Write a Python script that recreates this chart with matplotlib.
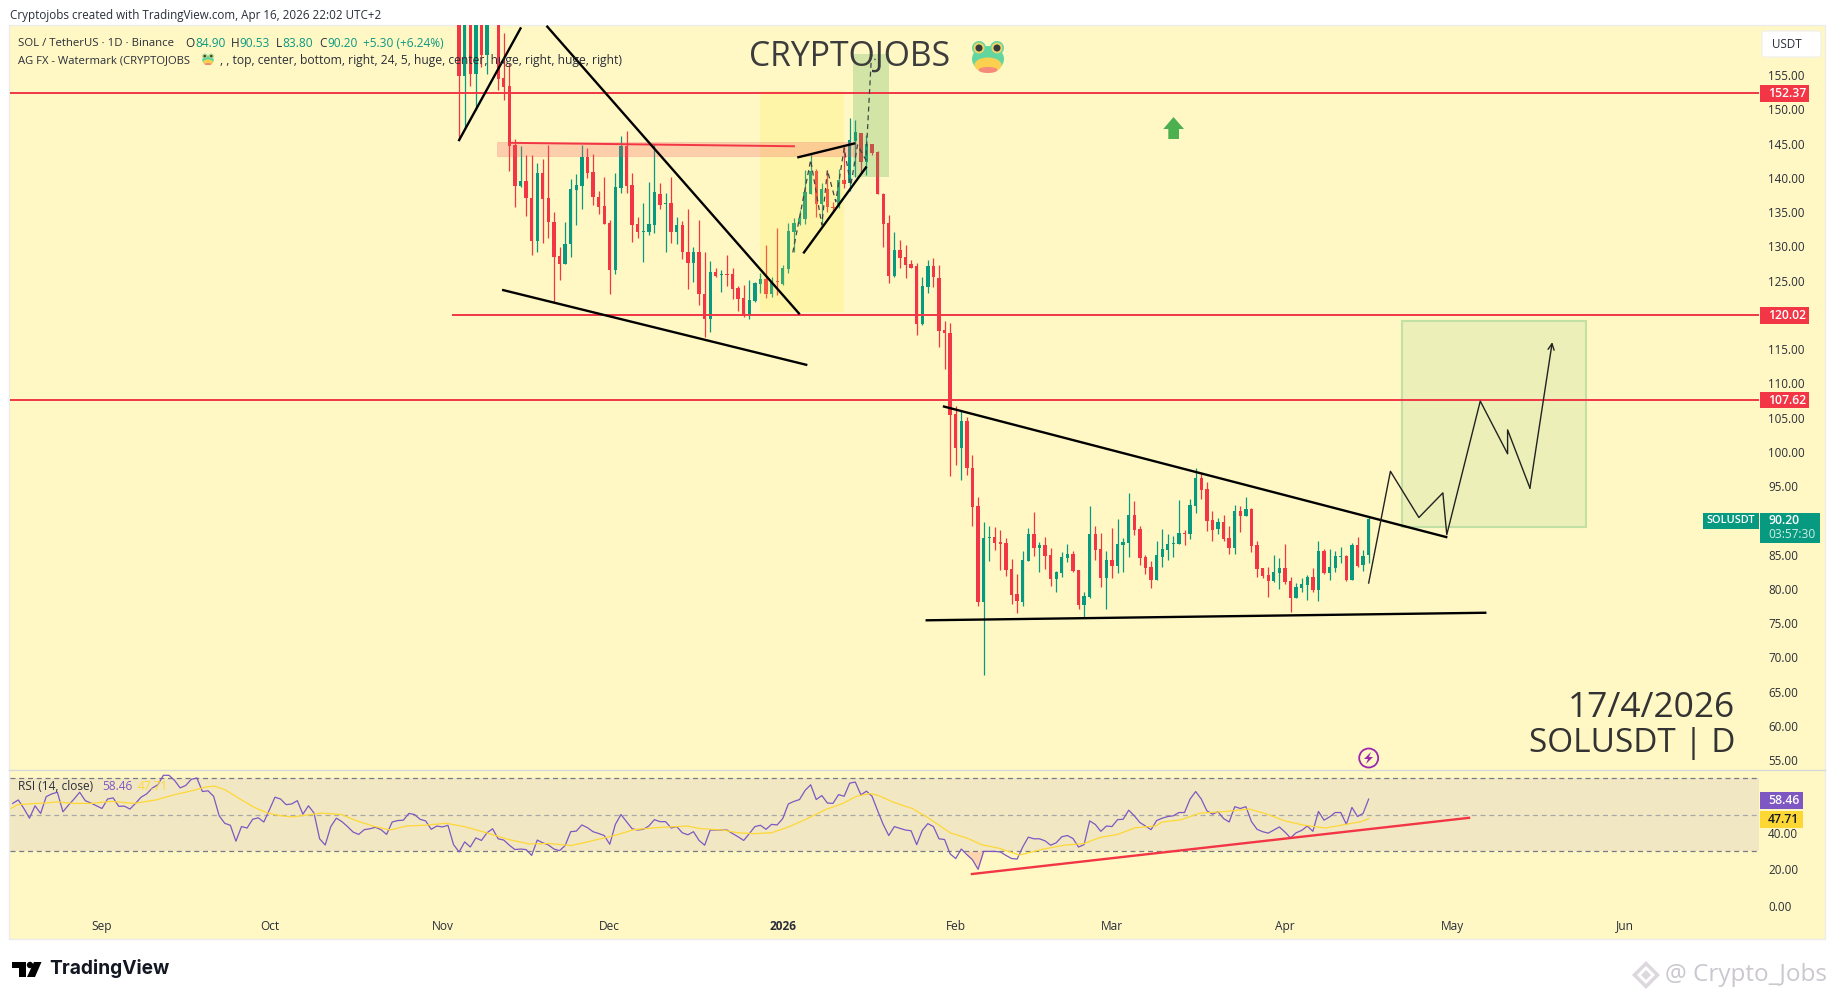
import numpy as np
import matplotlib
matplotlib.use('Agg')
import matplotlib.pyplot as plt
from matplotlib.patches import Rectangle, Circle, Ellipse, Polygon, FancyBboxPatch

plt.rcParams['font.family'] = ['Open Sans', 'DejaVu Sans']

# Days are counted from 1 Sep 2025
month_days = [0, 30, 61, 91, 122, 153, 181, 212, 242, 273]
month_names = ['Sep', 'Oct', 'Nov', 'Dec', '2026', 'Feb', 'Mar', 'Apr', 'May', 'Jun']

price_ticks = [55, 60, 65, 70, 75, 80, 85, 95, 100, 105, 110, 115, 125, 130, 135, 140, 145, 150, 155]
rsi_ticks = [0, 20, 40]
levels = [152.37, 120.02, 107.62]

candle_days = [64, 65, 66, 67, 68, 69] + list(range(71, 228))

# The first seven candles run off the top of the pane, their upper ends are guesses
opens = [170, 154.85, 172, 155.15, 172, 157.9, 172, 154.5, 153.4, 144.8,
         138.8, 139.5, 137.1, 130.8, 140.65, 137, 133.6, 128.6, 127.4, 130.3,
         138.2, 138.85, 143, 140.8, 137.25, 135.9, 133.4, 126.55, 138.55, 144.6,
         138.95, 133.25, 132.1, 132.1, 133.15, 137.7, 136.1, 136.3, 132.1, 133.1,
         129.2, 127.6, 129.2, 123.1, 119.45, 126.25, 125.75, 125.95, 125.95, 123.9,
         122.4, 119.8, 122, 124.5, 125.2, 123, 124.95, 124.5, 126.7, 132.15,
         133.25, 134, 137.7, 141.05, 136.15, 138.3, 135.8, 135.8, 139.65, 139.2,
         145.3, 146.6, 142.35, 144.9, 143.75, 137.7, 133.35, 125.7, 129.45, 128.4,
         127.4, 127.1, 118.65, 124.1, 127.1, 125.3, 117.75, 117.4, 105.5, 100.6,
         104.5, 97.7, 92.05, 78.05, 87.4, 87.55, 86.8, 86.65, 82.9, 79.25,
         78.05, 84.05, 88, 85.95, 86.4, 84.9, 81.45, 82.3, 84.5, 85.05,
         82.75, 77.65, 78.8, 88, 85.8, 81.55, 84.2, 83.3, 86.4, 86.7,
         90.75, 88.7, 84.65, 83.15, 81.25, 84.65, 85.65, 86.5, 86.5, 88.2,
         88, 92.1, 96.15, 94.55, 90.05, 88.7, 89.75, 87.4, 85.95, 91.35,
         90.6, 91.65, 86.4, 83.05, 82, 81.1, 82.3, 83.05, 81.1, 78.65,
         80.1, 80.55, 81.7, 79.8, 85.5, 82.3, 83.05, 84.65, 84.8, 81.25,
         86.4, 83.45, 84.9]
highs = [172, 172, 174, 174, 174, 174, 174, 161.1, 156.7, 145.6,
         144.6, 143.3, 143.3, 142.1, 142.8, 144.8, 134.95, 129.9, 133.55, 139.8,
         140.55, 144.8, 144.3, 143.5, 138, 140.05, 133.8, 140.75, 146.1, 146.8,
         140.65, 134.2, 136.3, 139.35, 145, 139.2, 137.8, 140.05, 134.2, 133.7,
         135.4, 129.9, 133.9, 129.1, 127.9, 126.8, 126.55, 128.7, 126.8, 124.2,
         124.35, 125.05, 124.85, 126.05, 130.2, 125.55, 132.6, 127.25, 133.35, 134.1,
         135.3, 141.15, 143.55, 141.35, 139.2, 141.15, 136.5, 141.35, 144.6, 148.7,
         148.45, 146.6, 146.25, 144.9, 143.95, 137.8, 134.55, 132.1, 130.9, 130.2,
         128, 127.5, 125.55, 128, 128.25, 127.25, 119.1, 118.75, 106.7, 106.1,
         105.1, 99.5, 93.35, 89.75, 89.15, 89, 88.6, 87.35, 84.35, 82.15,
         85.5, 88.85, 91.2, 86.9, 87.55, 85.9, 82.6, 85.35, 86.6, 85.5,
         82.75, 79.5, 92.05, 89.15, 88.15, 85.5, 88.85, 90.2, 87.4, 94,
         92.8, 89.15, 84.95, 84.05, 87, 88.7, 88, 87.7, 92.95, 88.6,
         93.1, 97.6, 96.9, 95.6, 91.35, 90.3, 90.75, 89.15, 92.2, 92.05,
         93.4, 91.8, 87, 83.05, 83.15, 84.95, 84.5, 86.5, 81.7, 80.85,
         81.55, 82, 83.05, 87, 85.8, 85.8, 85.5, 86.1, 84.95, 86.7,
         87.55, 85.65, 90.53]
lows = [145.5, 147.2, 153.4, 149.9, 156.2, 155.2, 152.8, 151.35, 141, 135.8,
        138.7, 134.4, 128.7, 129.1, 130.5, 131.2, 121.65, 125.05, 127.4, 128.5,
        133.1, 135.45, 139.9, 136, 134.7, 133.25, 123, 125.95, 137.8, 137.8,
        130.65, 131.2, 127.75, 131.65, 131.9, 135.4, 129.1, 130.5, 130.3, 128.1,
        123.7, 124.8, 121.4, 116.8, 117.5, 125.45, 123.35, 124.2, 122.25, 120.6,
        119.7, 119.35, 121.9, 123.15, 122.4, 122.65, 122.9, 124.35, 126.05, 129.2,
        133.1, 133.25, 137.7, 134.3, 133.1, 135.05, 135.05, 135.55, 138.45, 138,
        140.15, 140.9, 140.4, 143.3, 137.6, 129.9, 124.7, 125.55, 126.8, 125.3,
        126.8, 117.05, 118.5, 123.15, 124.1, 115.3, 112.1, 96.4, 98, 95.9,
        96.6, 89.15, 77.5, 67.4, 84, 85.65, 82.75, 81.85, 77.85, 76.5,
        77.5, 84.05, 84.8, 82.45, 82.9, 80.4, 79.5, 81.7, 83.9, 82.45,
        77.05, 75.7, 78.65, 84.2, 80.25, 77.05, 81.55, 82.3, 82.45, 84.65,
        87.85, 83.45, 82.15, 80.1, 81.25, 83.15, 84.2, 84.65, 86.5, 86.4,
        87.25, 91.05, 93.1, 88.4, 87, 88, 87, 85.05, 85.05, 88.3,
        90.6, 85.35, 81.7, 81.55, 78.8, 81, 79.95, 80.7, 76.6, 78.65,
        79.5, 78.35, 79.5, 78.2, 82.15, 81.25, 82.45, 83.75, 81.1, 81.25,
        83.15, 82.6, 83.8]
closes = [154.85, 170, 155.15, 172, 157.9, 172, 154.4, 153.3, 144.6, 138.85,
          139.5, 137.1, 130.8, 140.65, 136.9, 133.6, 128.4, 127.4, 130.4, 138.3,
          138.95, 143, 140.65, 137.25, 135.8, 133.25, 126.55, 138.6, 144.6, 138.85,
          133.15, 132.1, 132.2, 133.25, 137.9, 136, 136.3, 132.1, 133.1, 129.2,
          127.6, 129.2, 123.05, 119.45, 126.25, 125.65, 125.95, 125.8, 123.8, 122.3,
          119.8, 122.15, 124.6, 125.2, 123, 124.85, 124.75, 126.8, 132.3, 133.45,
          134.1, 137.85, 141.05, 136.15, 138.3, 135.7, 135.6, 139.65, 139.1, 145.5,
          146.7, 142.25, 144.9, 143.55, 137.7, 133.25, 125.65, 129.45, 128.35, 127.25,
          126.9, 118.65, 124.2, 127.1, 125.55, 117.7, 117.4, 105.4, 100.6, 104.5,
          97.7, 92, 78.05, 87.4, 87.6, 86.7, 86.6, 82.75, 79.1, 78.2,
          84.2, 88, 85.95, 86.4, 84.8, 81.45, 82.45, 84.65, 85.05, 82.55,
          77.65, 78.95, 88, 85.65, 81.55, 84.2, 83.3, 86.5, 86.8, 90.75,
          88.55, 84.5, 83.05, 81.25, 84.95, 85.8, 86.5, 86.7, 88.15, 88,
          92.2, 96.15, 94.4, 89.9, 88.55, 89.75, 87.25, 85.95, 91.35, 90.6,
          91.65, 86.25, 82.9, 81.85, 81.1, 82.45, 83.05, 81, 78.65, 80.25,
          80.7, 81.7, 79.8, 85.5, 82.3, 83.15, 84.8, 84.85, 81.25, 86.4,
          83.3, 84.8, 90.2]

rsi_values = [56.1, 58.0, 53.3, 48.0, 54.8, 50.6, 59.8, 61.3, 62.2, 51.5, 55.2, 58.5, 62.2, 57.6, 56.3,
              54.8, 53.3, 58.5, 59.1, 54.5, 54.6, 53.0, 56.1, 59.5, 61.3, 64.5, 66.3, 71.5, 71.5, 68.7,
              64.6, 65.9, 69.3, 70.0, 62.6, 63.0, 60.0, 49.3, 45.2, 44.1, 35.4, 43.4, 42.6, 47.4, 48.2,
              45.9, 52.6, 59.5, 58.5, 55.4, 55.8, 57.6, 50.2, 54.8, 50.8, 36.7, 33.3, 43.4, 48.0, 46.1,
              43.4, 40.4, 39.1, 41.7, 42.2, 43.0, 41.7, 39.1, 45.9, 46.7, 46.9, 50.6, 50.0, 47.4, 46.5,
              41.9, 43.7, 43.2, 44.1, 33.5, 29.5, 35.0, 32.2, 37.2, 35.8, 40.0, 42.2, 36.7, 36.0, 33.2,
              30.8, 31.1, 30.8, 27.6, 36.0, 34.5, 33.3, 31.1, 30.2, 33.0, 40.6, 40.9, 44.3, 42.8, 40.6,
              39.6, 38.5, 33.7, 44.6, 50.0, 46.1, 42.2, 41.5, 41.9, 43.7, 47.2, 46.1, 46.1, 42.6, 43.4,
              40.0, 38.9, 40.6, 35.8,
              33.2, 41.5, 41.5, 41.5, 41.5, 39.6, 37.8, 35.8, 39.5, 43.4, 44.1, 41.9, 44.6, 44.3, 47.8,
              55.8, 57.2, 58.2, 63.2, 66.3, 58.2, 60.4, 56.3, 56.1, 60.9, 60.0, 67.2, 67.8, 60.8, 62.8,
              60.0, 52.1, 44.6, 38.5, 43.4, 42.4, 41.5, 41.1, 33.5, 41.3, 45.0, 43.4, 36.7, 36.3, 28.4,
              25.9, 31.1, 28.0, 25.2, 20.0, 29.8, 29.8, 29.8, 29.5, 27.6, 25.9, 25.6, 32.2, 37.6, 36.7,
              36.7, 35.6, 33.2, 34.5, 37.8, 38.5, 36.9, 32.2, 33.5, 46.5, 44.6, 40.8, 43.7, 43.4, 47.2,
              47.4, 52.4, 49.3, 45.6, 43.7, 41.7, 46.7, 48.0, 48.9, 49.3, 51.1, 51.1, 58.5, 62.6, 58.5,
              52.1, 50.2, 51.5, 47.8, 45.9, 54.3, 53.3, 54.3, 46.1, 41.9, 40.6, 39.8, 41.5, 43.2, 40.4,
              37.2, 40.0, 41.3, 43.7, 40.8, 51.7, 46.9, 48.7, 51.1, 51.1, 44.6, 53.9, 48.9, 50.6, 58.46]
rsi_days = 227 - len(rsi_values) + 1 + np.arange(len(rsi_values))

ma_days = [-16.3, -15.1, -12.7, -10.3, -7.9, -5.1, -1.9, 1.7, 5.7, 9.7, 12.9, 16.1, 18.5, 20.1, 22.1, 24.9,
           27.3, 29.7, 32.1, 34.1, 36.9, 39.3, 42.9, 45.7, 48.9, 51.7, 54.5, 57.7, 61.7, 64.9, 68.9, 72.9,
           76.5, 80.1, 84.1, 88.1, 92.1, 95.3, 99.3, 104.9, 107.2, 111.2, 114, 116.8, 120, 123.2, 126.4,
           129.6, 132.8, 135.2, 137.6, 139.2, 141.6, 145.2, 148, 152, 155.2, 157.6, 160.8, 164.4, 168.8,
           172.4, 176, 178.8, 182, 185.2, 188.8, 190, 193.2, 196.8, 200.8, 205.6, 208.4, 212, 215.2, 219.2,
           222.4, 225.6, 227]
ma_values = [53.3, 55.4, 55.9, 56.3, 56.9, 56.1, 56.1, 57.2, 56.1, 58.0, 60.8, 63.0, 65.0, 65.6, 63.5, 58.2,
             53.9, 50.8, 49.3, 48.7, 49.8, 50.8, 50.0, 46.5, 43.4, 41.5, 43.7, 44.1, 45.2, 43.4, 40.0, 36.3,
             33.9, 34.1, 33.0, 35.8, 38.7, 41.7, 42.8, 43.7, 42.3, 41.5, 40.0, 39.5, 40.0, 43.4, 47.8,
             52.6, 56.1, 60.0, 61.5, 60.4, 57.0, 53.3, 48.3, 40.0, 36.9, 33.5, 31.5, 27.8, 31.1,
             33.2, 34.1, 37.4, 39.1, 42.8, 43.7, 45.9, 47.0, 50.8, 51.5, 53.0, 50.6, 46.5, 44.3, 42.6,
             44.3, 46.1, 47.71]

# Hand drawn lines as (day, price)
wedge_left = ([64, 75], [145.5, 161.8])
wedge_top = ([79.8, 124.9], [162.06, 120.2])
wedge_low = ([71.9, 126.2], [123.6, 112.7])
flag_top = ([124.8, 134.8], [143, 145])
flag_low = ([125.8, 136.9], [129.1, 141.5])
band_line = ([73.2, 124], [145.1, 144.6])
tri_top = ([150.9, 240.9], [106.6, 87.55])
tri_low = ([147.8, 247.9], [75.4, 76.5])
rsi_trend = ([155.9, 245], [17.4, 48.2])

dash_days = [123.8, 127, 129, 130, 131.5, 133, 134.2, 135.4, 136.9, 137.9, 138.6]
dash_prices = [129.1, 142.6, 133.1, 141.1, 136.5, 144.3, 138.9, 144.8, 142.6, 157.9, 157.2]
path_days = [227, 230.9, 236, 240.3, 241, 247, 251.9, 251.9, 255.9, 259.9]
path_prices = [80.84, 97.15, 90.4, 94, 87.9, 107.4, 99.7, 103.2, 94.7, 116]

GREEN = '#089981'
RED = '#f23645'
BG = '#fff8c4'
TXT = '#2a2e39'
W, H = 1835, 1000


def px_axes(z):
    a = fig.add_axes([0, 0, 1, 1], zorder=z)
    a.set_xlim(0, W)
    a.set_ylim(H, 0)
    a.axis('off')
    return a


def pane_axes(x0, x1, y0, y1):
    a = fig.add_axes([x0 / W, 1 - y1 / H, (x1 - x0) / W, (y1 - y0) / H], zorder=2)
    a.patch.set_visible(False)
    for s in a.spines.values():
        s.set_visible(False)
    a.set_xlim((x0 - 102) / 5.58, (x1 - 102) / 5.58)
    return a


def frog(a, cx, cy, s):
    a.add_patch(Circle((cx - 9 * s, cy - 8 * s), 7 * s, fc='#63d6a0', ec='none'))
    a.add_patch(Circle((cx + 9 * s, cy - 8 * s), 7 * s, fc='#63d6a0', ec='none'))
    a.add_patch(Ellipse((cx, cy + 3 * s), 32 * s, 26 * s, fc='#63d6a0', ec='none'))
    a.add_patch(Ellipse((cx, cy + 9 * s), 27 * s, 15 * s, fc='#fbd04f', ec='none'))
    a.add_patch(Ellipse((cx, cy + 14 * s), 19 * s, 6 * s, fc='#f58a7a', ec='none'))
    for sx in (-1, 1):
        a.add_patch(Circle((cx + sx * 9 * s, cy - 8 * s), 5.5 * s, fc='#e9d36a', ec='none'))
        a.add_patch(Circle((cx + sx * 9 * s, cy - 8 * s), 3.5 * s, fc='#3a3a3a', ec='none'))


def tag(a, x0, x1, y0, y1, color, label, tc='white', tx=None, size=8.8):
    a.add_patch(Rectangle((x0, y0), x1 - x0, y1 - y0, fc=color, ec='none'))
    a.text(x0 + 8 if tx is None else tx, (y0 + y1) / 2, label, color=tc, fontsize=size,
           fontweight='semibold', va='center', ha='left')


fig = plt.figure(figsize=(W / 100, H / 100), dpi=100, facecolor='white')

back = px_axes(0)
back.add_patch(Rectangle((9, 25), 1816, 914, fc=BG, ec='#ececec', lw=1))
back.plot([9, 1825], [770, 770], color='#d8d8d8', lw=1)

# price pane
ax = pane_axes(10, 1759, 25, 771)
ax.set_ylim(53.4, 162.3)
bottoms = np.minimum(opens, closes)
tops = np.maximum(opens, closes)
colors = [GREEN if c >= o else RED for o, c in zip(opens, closes)]
ax.vlines(candle_days, lows, highs, colors=colors, lw=0.9, zorder=2)
ax.bar(candle_days, tops - bottoms, 0.6, bottom=bottoms, color=colors, zorder=3)

ax.add_patch(Rectangle((117.9, 120.45), 15, 32.15, fc='#ffeb3b', alpha=0.2, ec='none', zorder=4))
ax.add_patch(Rectangle((134.6, 140.06), 6.4, 17.94, fc='#4caf50', alpha=0.25, ec='none', zorder=4))
ax.add_patch(Rectangle((70.85, 143.2), 64.2, 2, fc='#f7525f', alpha=0.25, ec='#f7525f', lw=0.5, zorder=4))
ax.add_patch(Rectangle((232.9, 89.05), 33, 30.05, fc='#4caf50', alpha=0.1, ec='none', zorder=4))
ax.add_patch(Rectangle((232.9, 89.05), 33, 30.05, fc='none', ec='#c3e0a4', lw=1.5, zorder=4))

ax.axhline(levels[0], color=RED, lw=1.4, zorder=5)
ax.plot([62.9, 300], [levels[1], levels[1]], color=RED, lw=1.4, zorder=5)
ax.axhline(levels[2], color=RED, lw=1.4, zorder=5)
ax.plot(*band_line, color=RED, lw=1.4, zorder=5)
for line in (wedge_left, wedge_top, wedge_low, flag_top, flag_low, tri_top, tri_low):
    ax.plot(*line, color='black', lw=1.7, zorder=6)
ax.plot(dash_days, dash_prices, color='#444444', lw=0.9, ls=(0, (4, 3)), zorder=6)
ax.plot(path_days[:-1], path_prices[:-1], color='#222222', lw=1, zorder=6)
ax.annotate('', xy=(path_days[-1], path_prices[-1]), xytext=(path_days[-2], path_prices[-2]),
            arrowprops=dict(arrowstyle='->', color='#222222', lw=1, mutation_scale=11, shrinkA=0, shrinkB=0), zorder=6)

ax.yaxis.tick_right()
ax.set_yticks(price_ticks)
ax.set_yticklabels(['%.2f' % p for p in price_ticks])
ax.tick_params(axis='y', length=0, pad=6.5, labelsize=8.4, labelcolor=TXT)
ax.set_xticks([])

# rsi pane
ax2 = pane_axes(10, 1759, 772, 939)
ax2.set_ylim(-18.2, 73.3)
ax2.axhspan(30, 70, fc='#f2e7c3', ec='none', zorder=1)
for lv, col in ((70, '#787b86'), (50, '#a8a8a8'), (30, '#787b86')):
    ax2.axhline(lv, color=col, lw=0.9, ls=(0, (4, 3)), zorder=2)
ax2.plot(rsi_days, rsi_values, color='#7e57c2', lw=0.9, zorder=3)
ax2.plot(ma_days, ma_values, color='#fdd835', lw=0.9, zorder=3)
sel = (rsi_days >= 155) & (rsi_days <= 158)
ax2.fill_between(rsi_days[sel], np.array(rsi_values)[sel], 30, color='#f7525f', alpha=0.2, lw=0, zorder=2)
ax2.plot(*rsi_trend, color=RED, lw=1.7, zorder=4)
ax2.yaxis.tick_right()
ax2.set_yticks(rsi_ticks)
ax2.set_yticklabels(['%.2f' % r for r in rsi_ticks])
ax2.tick_params(axis='y', length=0, pad=6.5, labelsize=8.4, labelcolor=TXT)
ax2.set_xticks(month_days)
ax2.set_xticklabels(month_names)
ax2.tick_params(axis='x', length=0, pad=-14, labelsize=8.6, labelcolor=TXT)
ax2.get_xticklabels()[4].set_fontweight('bold')

top = px_axes(5)
top.text(10, 15.5, 'Cryptojobs created with TradingView.com, Apr 16, 2026 22:02 UTC+2', fontsize=8.4, color=TXT, va='center')

top.text(18, 43.5, 'SOL / TetherUS · 1D · Binance', fontsize=8.2, color=TXT, va='center')
for x, s, c in [(185, 'O', TXT), (195, '84.90', GREEN), (231, 'H', TXT), (239, '90.53', GREEN), (276, 'L', TXT),
                (282, '83.80', GREEN), (319, 'C', TXT), (327, '90.20', GREEN), (362.5, '+5.30 (+6.24%)', GREEN)]:
    top.text(x, 43.5, s, fontsize=8.6, color=c, va='center')
top.text(18, 60.5, 'AG FX - Watermark (CRYPTOJOBS', fontsize=8.1, color=TXT, va='center')
frog(top, 208, 59, 0.36)
top.text(220, 60.5, ', , top, center, bottom, right, 24, 5, huge, center, huge, right, huge, right)', fontsize=8.7, color=TXT, va='center')
top.text(18, 787, 'RSI (14, close)', fontsize=8.6, color=TXT, va='center')
top.text(102, 787, '58.46', fontsize=8.6, color='#7e57c2', va='center')
top.text(138, 787, '47.71', fontsize=8.6, color='#fdd835', va='center')

top.text(850, 57, 'CRYPTOJOBS', fontsize=24.3, color='#3c3c3c', ha='center', va='center')
frog(top, 988, 56, 1)
top.text(1735, 708, '17/4/2026', fontsize=25.5, color='#333333', ha='right', va='center')
top.text(1735, 744, 'SOLUSDT | D', fontsize=24, color='#333333', ha='right', va='center')

# green arrow and the lightning badge
top.add_patch(Polygon([(1173.5, 117), (1184, 129), (1179, 129), (1179, 139), (1168.3, 139), (1168.3, 129), (1163.3, 129)], fc='#4caf50', ec='none'))
top.add_patch(Circle((1368.7, 758), 9.5, fc='none', ec='#9c27b0', lw=1.3))
top.add_patch(Polygon([(1371, 752), (1364, 759), (1368, 759), (1366, 764), (1373, 757), (1369, 757)], fc='#9c27b0', ec='none'))

# price scale tags and button
top.add_patch(FancyBboxPatch((1764, 33), 55, 22, boxstyle='round,pad=2,rounding_size=3', fc='white', ec='#eeeeee', lw=0.8))
top.text(1772, 44, 'USDT', fontsize=8.4, color=TXT, va='center')
tag(top, 1760, 1809, 85, 102, RED, '152.37')
tag(top, 1760, 1809, 307, 323.6, RED, '120.02')
tag(top, 1760, 1809, 392, 408, RED, '107.62')
tag(top, 1703, 1759, 512.5, 528.6, GREEN, 'SOLUSDT', tx=1706, size=7.9)
top.add_patch(Rectangle((1760, 512.5), 60, 30.5, fc=GREEN, ec='none'))
top.text(1768, 520.5, '90.20', fontsize=8.8, color='white', fontweight='semibold', va='center')
top.text(1768, 535, '03:57:30', fontsize=8.6, color='#cdeee6', va='center')
tag(top, 1760, 1803, 792, 808.7, '#7e57c2', '58.46')
tag(top, 1760, 1803, 811, 827.7, '#fdd835', '47.71', tc='#131722')

# logo and footer
top.add_patch(Polygon([(12, 962), (26, 962), (26, 977), (19, 977), (19, 968), (12, 968)], fc='black', ec='none'))
top.add_patch(Circle((30, 965), 3.2, fc='black', ec='none'))
top.add_patch(Polygon([(34, 962), (41.5, 962), (35, 977), (27, 977)], fc='black', ec='none'))
top.text(49, 969, 'TradingView', fontsize=13.8, fontweight='bold', family='Inter', color='#131722', va='center')

for r, c in ((14, '#dcd8de'), (9, 'white'), (5, '#dcd8de')):
    top.add_patch(Polygon([(1646, 975 - r), (1646 + r, 975), (1646, 975 + r), (1646 - r, 975)], fc=c, ec='none'))
top.text(1665, 975, '@ Crypto_Jobs', fontsize=17.5, color='#cbc7cf', va='center')

fig.savefig('out.png', dpi=100)
